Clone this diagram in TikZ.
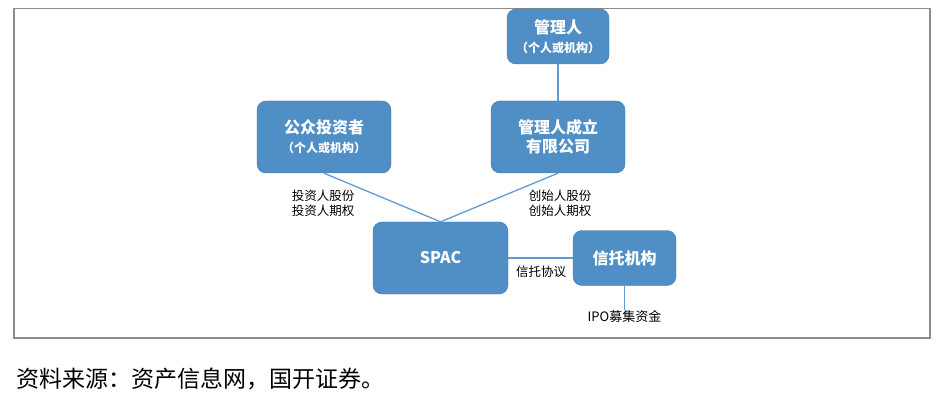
\documentclass[tikz,border=0pt]{standalone}
\usepackage{fontspec}
\setmainfont{Noto Sans CJK SC}
\usepackage{xcolor}

\definecolor{boxblue}{RGB}{79,143,198}
\definecolor{boxline}{RGB}{65,120,170}
\definecolor{linkblue}{RGB}{98,155,210}
\definecolor{framegray}{RGB}{140,140,140}

\tikzset{
  box/.style={draw=boxline, fill=boxblue, rounded corners=9pt, text=white, align=center, inner sep=0pt,
    font=\bfseries\fontsize{16}{19}\selectfont},
  link/.style={draw=linkblue, line width=1.3pt},
  lbl/.style={font=\fontsize{12.5}{15}\selectfont, align=center, inner sep=0pt}
}
\newcommand{\subline}[1]{{\fontsize{12}{16}\selectfont #1}}

\begin{document}
\begin{tikzpicture}[x=1pt,y=-1pt]
\useasboundingbox (0,0) rectangle (941,403);
\draw[framegray, line width=1.3pt] (14,8.5) rectangle (930,338);

\node[box, minimum width=102, minimum height=55] (mgr) at (558,36.5) {管理人\\\subline{（个人或机构）}};
\node[box, minimum width=134, minimum height=72] (pub) at (324,137) {公众投资者\\\subline{（个人或机构）}};
\node[box, minimum width=134, minimum height=72] (co) at (558,137) {管理人成立\\有限公司};
\node[box, minimum width=135, minimum height=72] (spac) at (440.5,258) {SPAC};
\node[box, minimum width=103, minimum height=55] (trust) at (624.5,258) {信托机构};
\coordinate (fund) at (624.5,310);

\draw[link] (mgr.south) -- (co.north);
\draw[link] (pub.south) -- (spac.north);
\draw[link] (co.south) -- (spac.north);
\draw[link] (spac.east) -- (trust.west);
\draw[link] (trust.south) -- (fund);

\node[lbl] (pubshare) at (323,203) {投资人股份\\投资人期权};
\node[lbl] (coshare) at (560,203) {创始人股份\\创始人期权};
\node[lbl] (deal) at (541,272) {信托协议};
\node[lbl, anchor=north, font=\fontsize{13}{15}\selectfont] (ipo) at (fund) {IPO募集资金};

\node[anchor=west, inner sep=0pt, font=\fontsize{23}{26}\selectfont] (src) at (16,379) {资料来源：资产信息网，国开证券。};
\end{tikzpicture}
\end{document}
